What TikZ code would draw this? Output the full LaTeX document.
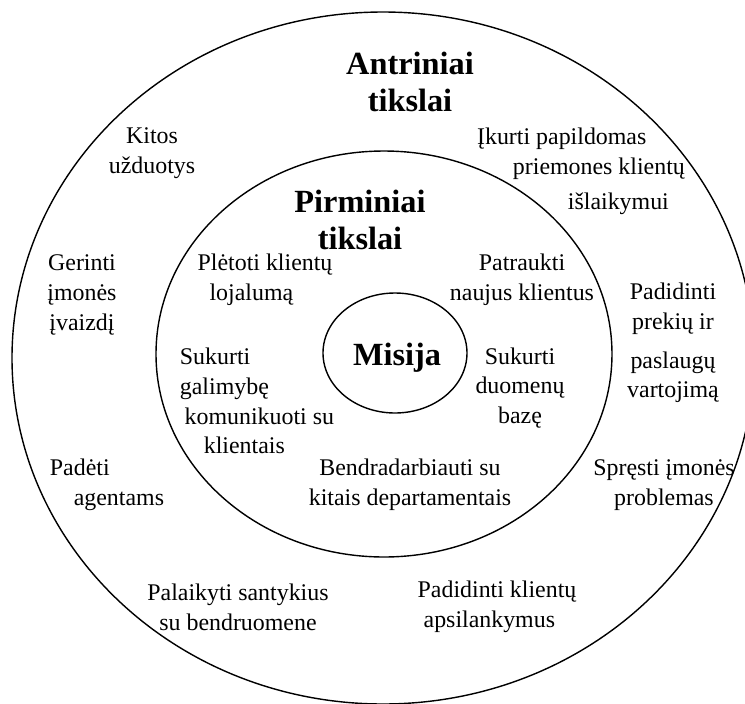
\documentclass[tikz,border=0pt]{standalone}
\usepackage{fontspec}
\setmainfont{Liberation Serif}

\tikzset{
  ring/.style={line width=0.8pt},
  goal/.style={font=\fontsize{13.6}{17}\selectfont, align=center, inner sep=0pt},
  goalleft/.style={goal, align=left},
  level/.style={font=\fontsize{18.4}{21.5}\selectfont\bfseries, align=center, inner sep=0pt}
}

\begin{document}
\begin{tikzpicture}[x=0.02cm, y=-0.02cm]
  \path[use as bounding box] (0,0) rectangle (745,704);
  \clip (0,0) rectangle (745,704);

  % the three rings
  \draw[ring] (383,358) ellipse [x radius=371, y radius=346];
  \draw[ring] (384,354) ellipse [x radius=228, y radius=203];
  \draw[ring] (395,353) ellipse [x radius=72, y radius=60];

  \node[level] (antriniai) at (410,82) {Antriniai\\tikslai};
  \node[level] (pirminiai) at (360,220) {Pirminiai\\tikslai};
  \node[level] (misija) at (397,358) {Misija};

  \foreach \nm/\st/\px/\py/\txt in {%
    kitos/goal/152/153/{Kitos\\užduotys},%
    ikurti/goalleft/581/171/{Įkurti papildomas\\\hspace*{1.5em}priemones klientų\\[3pt]\hspace*{3.8em}išlaikymui},%
    gerinti/goal/82/295/{Gerinti\\įmonės\\įvaizdį},%
    pletoti/goalleft/265/280/{Plėtoti klientų\\\hspace*{0.5em}lojalumą},%
    patraukti/goal/522/280/{Patraukti\\naujus klientus},%
    padidinti/goal/673/343/{Padidinti\\prekių ir\\[5pt]paslaugų\\vartojimą},%
    galimybe/goalleft/257/401/{Sukurti\\galimybę\\\hspace*{0.2em}komunikuoti su\\\hspace*{1em}klientais},%
    duomenu/goal/520/388/{Sukurti\\duomenų\\bazę},%
    padeti/goalleft/107/485/{Padėti\\\hspace*{1em}agentams},%
    bendradarbiauti/goal/410/485/{Bendradarbiauti su\\kitais departamentais},%
    spresti/goal/664/485/{Spręsti įmonės\\problemas},%
    palaikyti/goal/238/607/{Palaikyti santykius\\su bendruomene},%
    apsilankymus/goalleft/497/607/{Padidinti klientų\\\hspace*{0.25em}apsilankymus}%
  }{
    \node[\st] (\nm) at (\px,\py) {\txt};
  }
\end{tikzpicture}
\end{document}
